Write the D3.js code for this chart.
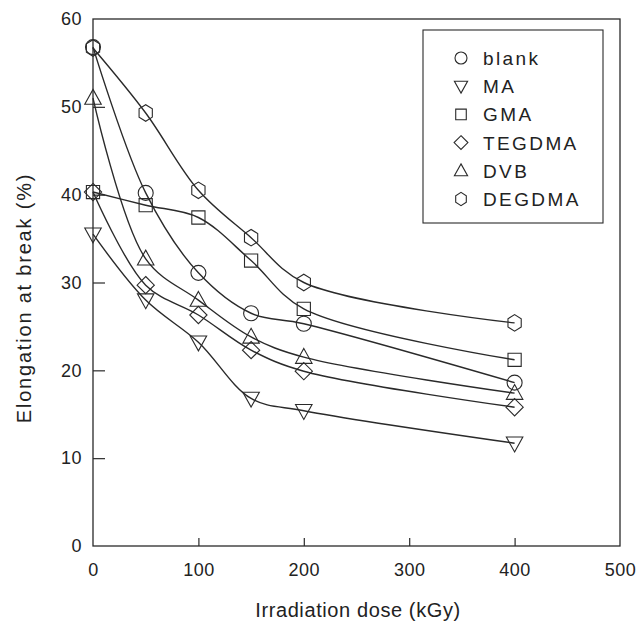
<!DOCTYPE html>
<html>
<head>
<meta charset="utf-8">
<script src="https://cdn.jsdelivr.net/npm/d3@7"></script>
<style>
  body { margin: 0; background: #fff; }
  text { font-family: "Liberation Sans", Arial, sans-serif; fill: #222; }
</style>
</head>
<body>
<svg id="myGraph" width="638" height="622"></svg>
<script>
// データ
var doses = [0, 50, 100, 150, 200, 400];
var seriesNames = ['blank', 'MA', 'GMA', 'TEGDMA', 'DVB', 'DEGDMA'];
var blank = [56.8, 40.2, 31.1, 26.5, 25.3, 18.6];
var ma = [35.5, 28.0, 23.2, 16.8, 15.4, 11.7];
var gma = [40.3, 38.8, 37.4, 32.5, 27.0, 21.2];
var tegdma = [40.3, 29.7, 26.3, 22.3, 19.9, 15.8];
var dvb = [51.0, 32.7, 28.0, 23.8, 21.5, 17.4];
var degdma = [56.7, 49.3, 40.5, 35.1, 30.0, 25.4];
var xTicks = [0, 100, 200, 300, 400, 500];
var yTicks = [0, 10, 20, 30, 40, 50, 60];

render();

function render() {
  var seriesValues = [blank, ma, gma, tegdma, dvb, degdma];
  var symbols = ['circle', 'down', 'square', 'diamond', 'up', 'hexagon'];

  var svg = d3.select('#myGraph');
  var plotLeft = 93, plotRight = 620, plotTop = 19, plotBottom = 546;
  var ink = '#2a2a2a';

  var x = d3.scaleLinear().domain([0, 500]).range([plotLeft, plotRight]);
  var y = d3.scaleLinear().domain([0, 60]).range([plotBottom, plotTop]);

  //記号のパス（中心0,0）
  function symbolPath(type, s) {
    switch (type) {
      case 'circle':
        var q = d3.path();
        q.moveTo(s, 0);
        q.arc(0, 0, s, 0, 2 * Math.PI);
        return q.toString();
      case 'square':
        var h = s * 0.88;
        return 'M' + -h + ',' + -h + 'H' + h + 'V' + h + 'H' + -h + 'Z';
      case 'diamond':
        var d = s * 1.15;
        return 'M0,' + -d + 'L' + d + ',0L0,' + d + 'L' + -d + ',0Z';
      case 'up':
        var a = s * 1.1;
        return 'M0,' + (-a * 1.05) + 'L' + a + ',' + (a * 0.75) + 'L' + -a + ',' + (a * 0.75) + 'Z';
      case 'down':
        var b = s * 1.1;
        return 'M0,' + (b * 1.05) + 'L' + b + ',' + (-b * 0.75) + 'L' + -b + ',' + (-b * 0.75) + 'Z';
      case 'hexagon':
        var p = [];
        for (var k = 0; k < 6; k++) {
          var ang = Math.PI / 6 + k * Math.PI / 3;
          p.push([s * 1.02 * Math.cos(ang), s * 1.1 * Math.sin(ang)]);
        }
        return 'M' + p.map(function(c) { return c.join(','); }).join('L') + 'Z';
    }
  }

  //枠
  svg.append('rect')
    .attr('x', plotLeft).attr('y', plotTop)
    .attr('width', plotRight - plotLeft).attr('height', plotBottom - plotTop)
    .attr('fill', 'none').attr('stroke', ink).attr('stroke-width', 1.3);

  //軸
  var xAxis = svg.append('g')
    .attr('transform', 'translate(0,' + plotBottom + ')')
    .call(d3.axisBottom(x).tickValues(xTicks).tickSizeInner(-8).tickSizeOuter(0).tickPadding(17));
  var yAxis = svg.append('g')
    .attr('transform', 'translate(' + plotLeft + ',0)')
    .call(d3.axisLeft(y).tickValues(yTicks).tickSizeInner(-12).tickSizeOuter(0).tickPadding(11));

  [xAxis, yAxis].forEach(function(g) {
    g.select('.domain').remove();
    g.selectAll('line').attr('stroke', ink).attr('stroke-width', 1.2);
    g.selectAll('text')
      .attr('font-family', null)
      .style('font-size', '18px')
      .style('letter-spacing', '0.5px')
      .style('fill', '#222');
  });
  xAxis.selectAll('.tick').filter(function(d) { return d === 0 || d === 500; }).select('line').remove();
  yAxis.selectAll('.tick').filter(function(d) { return d === 0 || d === 60; }).select('line').remove();

  //軸タイトル
  svg.append('text')
    .attr('x', 358).attr('y', 617)
    .attr('text-anchor', 'middle')
    .style('font-size', '20px')
    .style('letter-spacing', '0.6px')
    .text('Irradiation dose (kGy)');
  svg.append('text')
    .attr('transform', 'translate(31,298) rotate(-90)')
    .attr('text-anchor', 'middle')
    .style('font-size', '20px')
    .style('letter-spacing', '1.8px')
    .text('Elongation at break (%)');

  //曲線
  var line = d3.line()
    .x(function(d) { return x(d[0]); })
    .y(function(d) { return y(d[1]); })
    .curve(d3.curveCatmullRom.alpha(0.5));

  seriesValues.forEach(function(vals, i) {
    var pts = doses.map(function(dz, j) { return [dz, vals[j]]; });
    svg.append('path')
      .attr('d', line(pts))
      .attr('fill', 'none')
      .attr('stroke', ink)
      .attr('stroke-width', 1.4);

    svg.selectAll('.m' + i)
      .data(pts)
      .enter()
      .append('path')
      .attr('class', 'm' + i)
      .attr('transform', function(d) { return 'translate(' + x(d[0]) + ',' + y(d[1]) + ')'; })
      .attr('d', symbolPath(symbols[i], 7.5))
      .attr('fill', 'none')
      .attr('stroke', ink)
      .attr('stroke-width', 1.1);
  });

  //凡例
  svg.append('rect')
    .attr('x', 423).attr('y', 30)
    .attr('width', 180).attr('height', 193)
    .attr('fill', '#fff').attr('stroke', ink).attr('stroke-width', 1.1);

  var legend = svg.selectAll('.legend')
    .data(seriesNames)
    .enter()
    .append('g')
    .attr('class', 'legend')
    .attr('transform', function(d, i) { return 'translate(461,' + (58 + i * 28.2) + ')'; });

  legend.append('path')
    .attr('d', function(d, i) { return symbolPath(symbols[i], 6); })
    .attr('fill', 'none')
    .attr('stroke', ink)
    .attr('stroke-width', 1.1);

  legend.append('text')
    .attr('x', 22).attr('y', 7)
    .style('font-size', '19px')
    .style('letter-spacing', '2.4px')
    .text(function(d) { return d; });
}
</script>
</body>
</html>
